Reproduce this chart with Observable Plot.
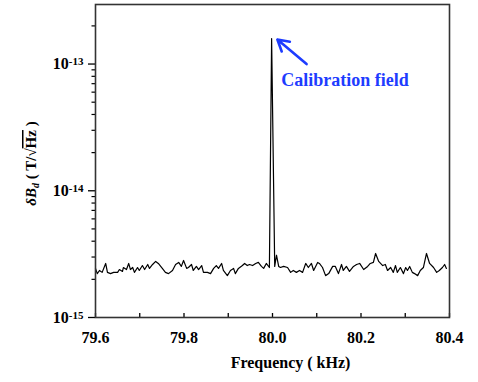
<!DOCTYPE html>
<html><head><meta charset="utf-8">
<script src="https://cdn.jsdelivr.net/npm/d3@7"></script>
<script src="https://cdn.jsdelivr.net/npm/@observablehq/plot@0.6"></script>
<style>
body{margin:0;background:#fff}
#chart{width:478px;height:382px}
#chart svg, #chart svg text, #chart svg tspan { font-family: "Liberation Serif", "DejaVu Serif", serif !important; }
</style>
</head><body><div id="chart"></div>
<script>
// Frequency (kHz)
const freqKHz = [79.600,79.604,79.609,79.615,79.623,79.627,79.634,79.641,79.650,79.654,
79.661,79.663,79.670,79.675,79.679,79.684,79.688,79.695,79.699,79.706,
79.711,79.718,79.722,79.729,79.736,79.742,79.751,79.758,79.765,79.774,
79.781,79.788,79.794,79.799,79.806,79.810,79.817,79.821,79.828,79.833,
79.840,79.844,79.853,79.860,79.867,79.873,79.878,79.885,79.889,79.898,
79.905,79.912,79.916,79.923,79.932,79.937,79.943,79.948,79.955,79.962,
79.968,79.975,79.980,79.986,79.993,79.998,80.005,80.009,80.014,80.018,80.025,
80.034,80.041,80.047,80.054,80.061,80.068,80.075,80.081,80.088,80.093,
80.102,80.106,80.113,80.120,80.127,80.136,80.142,80.149,80.156,80.160,
80.167,80.174,80.183,80.190,80.197,80.206,80.215,80.221,80.228,80.233,
80.240,80.249,80.255,80.260,80.267,80.273,80.278,80.282,80.289,80.296,
80.301,80.305,80.310,80.316,80.321,80.328,80.334,80.341,80.348,80.355,
80.364,80.371,80.377,80.384,80.389,80.393];
// Noise spectral density dB_d (T/sqrt(Hz))
const deltaB = [2.44e-15,2.22e-15,2.35e-15,2.27e-15,2.67e-15,2.27e-15,2.22e-15,2.27e-15,2.27e-15,2.39e-15,
2.31e-15,2.48e-15,2.39e-15,2.67e-15,2.39e-15,2.48e-15,2.27e-15,2.48e-15,2.35e-15,2.57e-15,
2.39e-15,2.62e-15,2.44e-15,2.62e-15,2.77e-15,2.67e-15,2.44e-15,2.27e-15,2.22e-15,2.35e-15,
2.62e-15,2.72e-15,2.53e-15,2.82e-15,2.44e-15,2.48e-15,2.62e-15,2.35e-15,2.53e-15,2.39e-15,
2.57e-15,2.27e-15,2.27e-15,2.22e-15,2.44e-15,2.57e-15,2.44e-15,2.67e-15,2.35e-15,2.14e-15,
2.35e-15,2.44e-15,2.22e-15,2.44e-15,2.57e-15,2.67e-15,2.57e-15,2.62e-15,2.57e-15,2.67e-15,
2.72e-15,2.53e-15,2.44e-15,2.67e-15,2.48e-15,1.59e-13,2.53e-15,3.10e-15,2.53e-15,2.48e-15,2.53e-15,
2.48e-15,2.27e-15,2.35e-15,2.27e-15,2.35e-15,2.27e-15,2.67e-15,2.48e-15,2.67e-15,2.35e-15,
2.72e-15,2.67e-15,2.48e-15,2.14e-15,2.22e-15,2.53e-15,2.53e-15,2.22e-15,2.62e-15,2.35e-15,
2.53e-15,2.31e-15,2.53e-15,2.62e-15,2.67e-15,2.39e-15,2.53e-15,2.67e-15,2.72e-15,3.20e-15,
2.77e-15,2.57e-15,2.62e-15,2.35e-15,2.48e-15,2.27e-15,2.57e-15,2.27e-15,2.48e-15,2.22e-15,
2.48e-15,2.35e-15,2.53e-15,2.27e-15,2.22e-15,2.14e-15,2.35e-15,2.48e-15,3.20e-15,2.67e-15,
2.48e-15,2.27e-15,2.35e-15,2.48e-15,2.62e-15,2.44e-15];

const xTickLabels = [79.6, 79.8, 80.0, 80.2, 80.4];
const xTickMarks = [79.6, 79.7, 79.8, 79.9, 80.0, 80.1, 80.2, 80.3, 80.4];
const yMajorTicks = [1e-15, 1e-14, 1e-13];
const yMinorTicks = [2e-15,3e-15,4e-15,5e-15,6e-15,7e-15,8e-15,9e-15,
                     2e-14,3e-14,4e-14,5e-14,6e-14,7e-14,8e-14,9e-14,2e-13];
const annotationText = ["Calibration field"];
const annotationX = [80.020];
const annotationY = [7.5e-14];
const arrowX1 = [80.077], arrowY1 = [1.0e-13];
const arrowX2 = [80.011], arrowY2 = [1.56e-13];
const xLabel = "Frequency ( kHz)";

const blue = "#1e3cff";
const data = freqKHz.map((f, i) => ({f, v: deltaB[i]}));
const arrows = arrowX1.map((_, i) => ({x1: arrowX1[i], y1: arrowY1[i], x2: arrowX2[i], y2: arrowY2[i]}));
const notes = annotationText.map((t, i) => ({t, x: annotationX[i], y: annotationY[i]}));

const font = '"Liberation Serif", "DejaVu Serif", serif';
const plot = Plot.plot({
  width: 478, height: 382,
  marginLeft: 95, marginRight: 29, marginTop: 4, marginBottom: 65,
  style: {fontFamily: font, fontWeight: "bold", fontSize: "16px", background: "#fff", color: "#000", overflow: "visible"},
  x: {domain: [79.6, 80.4]},
  y: {type: "log", domain: [1e-15, 2.95e-13]},
  marks: [
    Plot.line(data, {x: "f", y: "v", stroke: "#000", strokeWidth: 1.2}),
    Plot.axisX({ticks: xTickMarks, tickSize: -4, tickFormat: () => "", label: null, strokeWidth: 1.3}),
    Plot.axisX({ticks: xTickLabels, tickSize: 0, tickPadding: 14, tickFormat: d => d.toFixed(1), label: null, fontSize: 16}),
    Plot.axisY({ticks: yMinorTicks, tickSize: 3.5, tickFormat: () => "", label: null, strokeWidth: 1.2}),
    Plot.axisY({ticks: yMajorTicks, tickSize: 7, tickPadding: 5, tickFormat: d => String(Math.round(Math.log10(d))), label: null, fontSize: 16, strokeWidth: 1.3}),
    Plot.frame({stroke: "#333", strokeWidth: 1.6}),
    Plot.arrow(arrows, {x1: "x1", y1: "y1", x2: "x2", y2: "y2", stroke: blue, strokeWidth: 2.6, headLength: 9}),
    Plot.text(notes, {x: "x", y: "y", text: "t", textAnchor: "start", fill: blue, fontSize: 18, fontWeight: "bold"})
  ]
});
document.getElementById("chart").append(plot);

const svg = d3.select(plot);
svg.selectAll('g[aria-label="y-axis tick label"] text').each(function() {
  const exp = this.textContent;
  if (!exp) return;
  const t = d3.select(this);
  t.text("");
  t.append("tspan").text("10");
  t.append("tspan").attr("font-size", 11).attr("dy", -4).text(exp);
});
svg.append("text").attr("x", 290.5).attr("y", 368).attr("text-anchor", "middle")
  .attr("font-size", 16).attr("font-weight", "bold").attr("fill", "#000").text(xLabel);
const yl = svg.append("text").attr("transform", "translate(36,163.5) rotate(-90)")
  .attr("text-anchor", "middle").attr("font-size", 15).attr("font-weight", "bold").attr("fill", "#000");
yl.append("tspan").attr("font-style", "italic").text("δB");
yl.append("tspan").attr("font-style", "italic").attr("font-size", 10).attr("dy", 3).text("d");
yl.append("tspan").attr("dy", -3).text(" ( T/√");
yl.append("tspan").style("text-decoration", "overline").text("Hz");
yl.append("tspan").text(" )");
</script>
</body></html>
